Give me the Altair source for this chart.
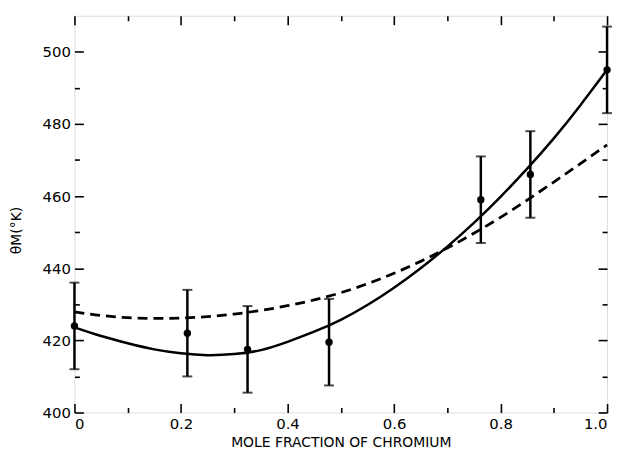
import altair as alt
import pandas as pd

# ---- measured data points with error bars ----
x_pts = [0.0, 0.212, 0.325, 0.478, 0.763, 0.856, 1.0]
y_pts = [424.0, 422.0, 417.5, 419.5, 459.0, 466.0, 495.0]
y_lo = [412.0, 410.0, 405.5, 407.5, 447.0, 454.0, 483.0]
y_hi = [436.0, 434.0, 429.5, 431.5, 471.0, 478.0, 507.0]

# ---- fitted curves ----
curve_x = [0.0, 0.05, 0.10, 0.15, 0.20, 0.25, 0.30, 0.35, 0.40, 0.45, 0.50,
           0.55, 0.60, 0.65, 0.70, 0.75, 0.80, 0.85, 0.90, 0.95, 1.00]
solid_y = [423.6, 421.2, 419.2, 417.5, 416.4, 415.9, 416.2, 417.3, 419.6, 422.4, 425.7,
           429.8, 434.6, 440.0, 446.0, 452.6, 459.8, 467.6, 476.0, 485.2, 495.0]
dashed_y = [427.9, 426.9, 426.3, 426.1, 426.2, 426.6, 427.3, 428.3, 429.6, 431.2, 433.2,
            435.7, 438.6, 441.9, 445.6, 449.7, 454.1, 458.9, 463.9, 469.0, 474.2]

# ---- axis ticks ----
x_major = [0.0, 0.2, 0.4, 0.6, 0.8, 1.0]
x_minor = [0.1, 0.3, 0.5, 0.7, 0.9]
y_major = [400, 420, 440, 460, 480, 500]
y_minor = [410, 430, 450, 470, 490]

W, H = 537, 400
FONT = "DejaVu Sans"

pts = pd.DataFrame({"x": x_pts, "y": y_pts, "lo": y_lo, "hi": y_hi})
solid = pd.DataFrame({"x": curve_x, "y": solid_y})
dashed = pd.DataFrame({"x": curve_x, "y": dashed_y})

xs = alt.Scale(domain=[0, 1], nice=False, zero=False)
ys = alt.Scale(domain=[400, 510], nice=False, zero=False)


def tick_layer(x_orient, y_orient, xvals, yvals, size):
    return alt.Chart(pts).mark_point(opacity=0).encode(
        x=alt.X("x:Q", scale=xs, title="",
                axis=alt.Axis(orient=x_orient, offset=-H, values=xvals, labels=False,
                              domain=False, grid=False, tickSize=size, tickWidth=1.6,
                              tickColor="black")),
        y=alt.Y("y:Q", scale=ys, title="",
                axis=alt.Axis(orient=y_orient, offset=-W, values=yvals, labels=False,
                              domain=False, grid=False, tickSize=size, tickWidth=1.6,
                              tickColor="black")),
    )


main_axes = alt.Chart(pts).mark_point(opacity=0).encode(
    x=alt.X("x:Q", scale=xs, title="MOLE FRACTION OF CHROMIUM",
            axis=alt.Axis(orient="bottom", values=x_major, tickSize=0, domain=False, grid=False,
                          labelExpr="datum.value == 0 ? '0' : format(datum.value, '.1f')",
                          labelPadding=4, labelFontSize=15, titleFontSize=14,
                          titleFontWeight="normal", titlePadding=4,
                          labelFont=FONT, titleFont=FONT, labelColor="black", titleColor="black")),
    y=alt.Y("y:Q", scale=ys, title="θM(°K)",
            axis=alt.Axis(orient="left", values=y_major, tickSize=0, domain=False, grid=False,
                          labelPadding=4, labelFontSize=15, titleFontSize=14,
                          titleFontWeight="normal", titlePadding=19, titleY=216,
                          labelFont=FONT, titleFont=FONT, labelColor="black", titleColor="black")),
)

enc_x = alt.X("x:Q", scale=xs, axis=None)
enc_y = alt.Y("y:Q", scale=ys, axis=None)

bars = alt.Chart(pts).mark_rule(color="black", strokeWidth=2.5).encode(
    x=enc_x, y=alt.Y("lo:Q", scale=ys, axis=None), y2="hi:Q")
caps_lo = alt.Chart(pts).mark_tick(color="black", orient="horizontal", size=10, thickness=2).encode(
    x=enc_x, y=alt.Y("lo:Q", scale=ys, axis=None))
caps_hi = alt.Chart(pts).mark_tick(color="black", orient="horizontal", size=10, thickness=2).encode(
    x=enc_x, y=alt.Y("hi:Q", scale=ys, axis=None))
dots = alt.Chart(pts).mark_circle(color="black", size=55, opacity=1).encode(x=enc_x, y=enc_y)

solid_line = alt.Chart(solid).mark_line(color="black", strokeWidth=2.5, interpolate="natural").encode(
    x=enc_x, y=enc_y)
dashed_line = alt.Chart(dashed).mark_line(color="black", strokeWidth=2.8, strokeDash=[10, 6],
                                          interpolate="natural").encode(x=enc_x, y=enc_y)

chart = alt.layer(
    main_axes,
    tick_layer("top", "right", x_major, y_major, 9),
    tick_layer("top", "right", x_minor, y_minor, 5),
    tick_layer("bottom", "left", x_major, y_major, 9),
    tick_layer("bottom", "left", x_minor, y_minor, 5),
    dashed_line, solid_line, bars, caps_lo, caps_hi, dots,
).resolve_axis(x="independent", y="independent").properties(
    width=W, height=H, padding={"left": 1, "top": 5, "right": 1, "bottom": 0}
).configure_view(stroke="black", strokeWidth=2).configure(background="white")

chart.save("out.html", embed_options={"renderer": "svg", "actions": False})
